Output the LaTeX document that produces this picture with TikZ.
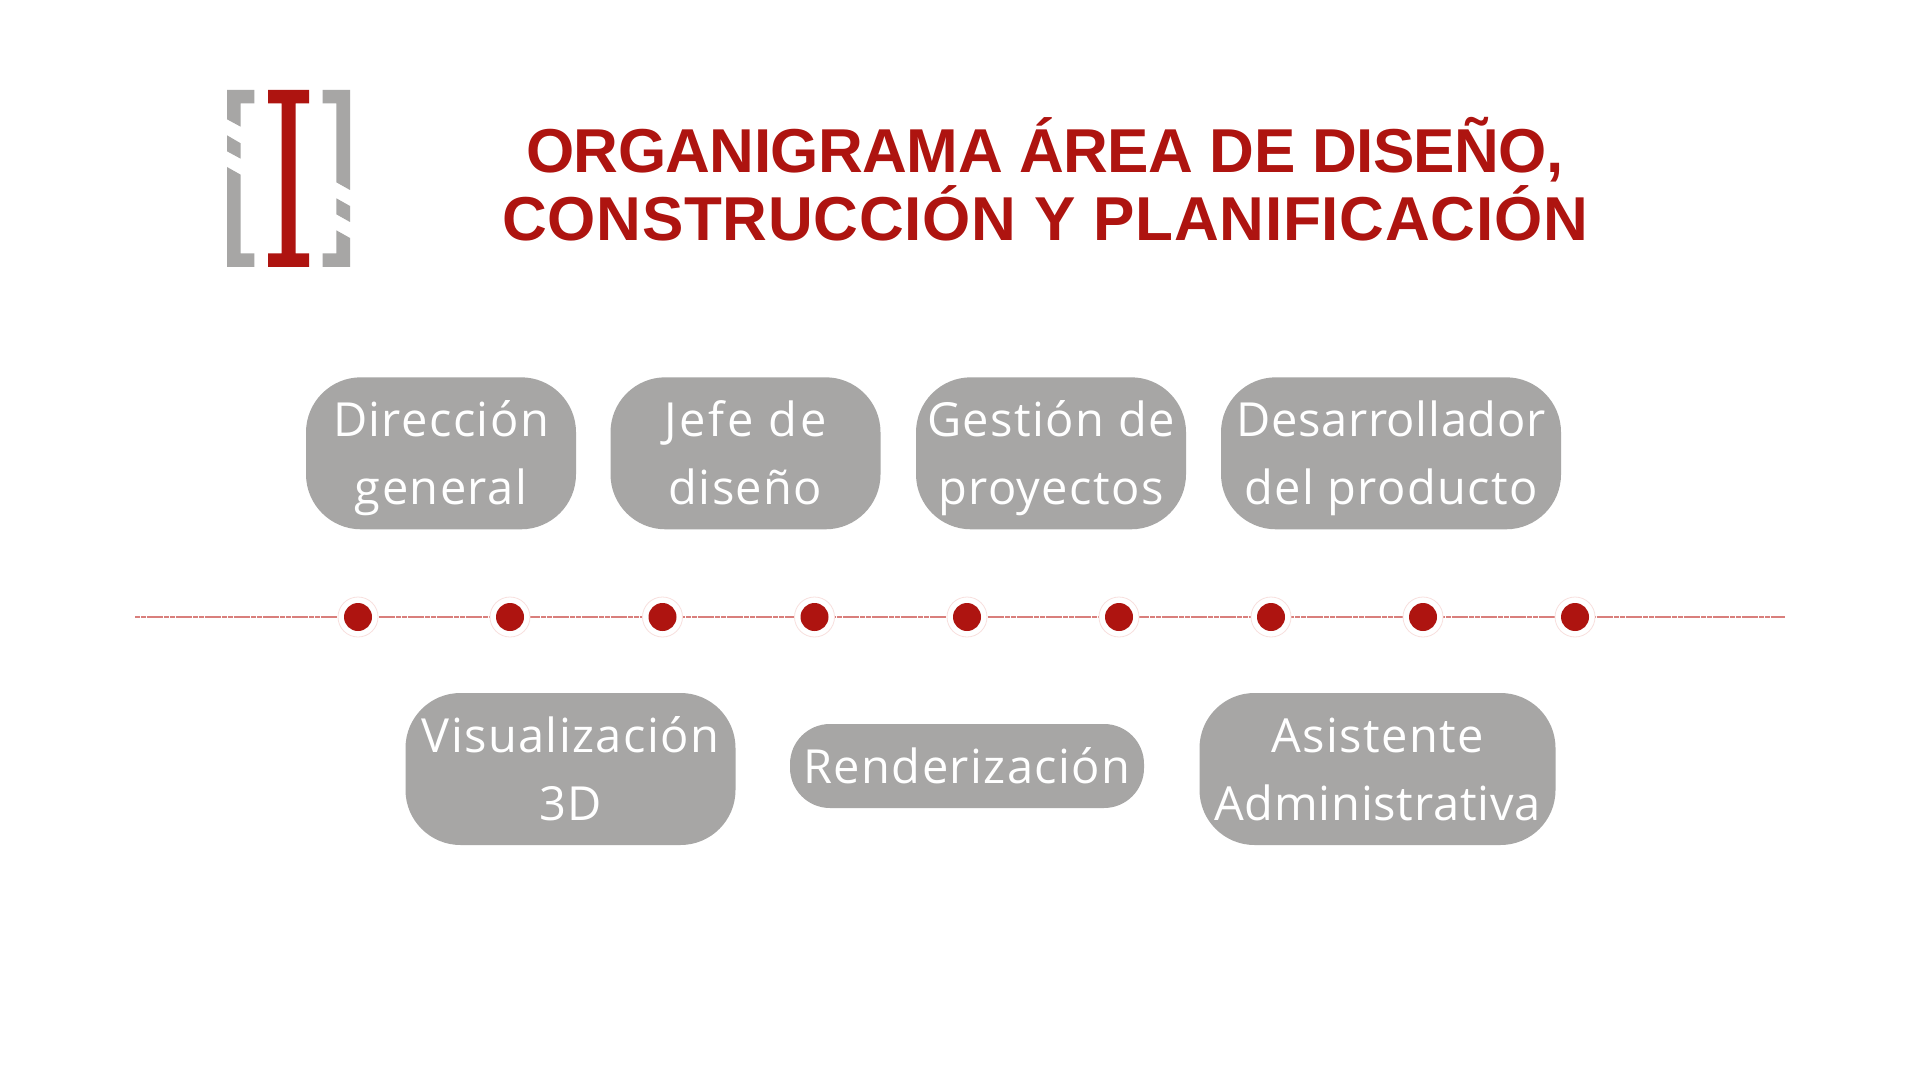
\documentclass[tikz,border=0pt]{standalone}
\usepackage{fontspec}
\setmainfont{Open Sans}[LetterSpace=3]
\newfontfamily\titlefont{Liberation Sans}
\newcommand\pillstrut{\rule[-8.4pt]{0pt}{34pt}}
\newcommand\tight[2]{{\addfontfeature{LetterSpace=#1}#2}}
\definecolor{boxgray}{HTML}{A7A6A5}
\definecolor{brandred}{HTML}{AE1410}
\definecolor{linered}{HTML}{D97F7C}
\definecolor{ringred}{HTML}{F8E0DE}
\tikzset{
  pill/.style={fill=boxgray,text=white,rounded corners=27.5pt,inner sep=0pt,align=center,
    font=\fontsize{23.5pt}{34pt}\selectfont,minimum height=76pt},
  titleline/.style={text=brandred,inner sep=0pt,anchor=base,font=\titlefont\bfseries\fontsize{31pt}{34pt}\selectfont},
  dotnode/.style={circle,fill=brandred,minimum size=14pt,inner sep=0pt},
  ringnode/.style={circle,fill=white,draw=ringred,line width=0.4pt,minimum size=20pt,inner sep=0pt},
  timeline/.style={draw=linered,line width=0.75pt,dash pattern=on 2.6pt off 0.3pt},
  logogray/.style={fill=boxgray},
  logored/.style={fill=brandred}
}
\begin{document}
\begin{tikzpicture}[x=0.5pt,y=-0.5pt]
\useasboundingbox (0,0) rectangle (1920,1080);
\fill[white] (0,0) rectangle (1920,1080);
% logo
\fill[logogray] (227,90)--(254.3,90)--(254.3,103.3)--(240.7,103.3)--(240.7,126.7)--(227,119.3)--cycle;
\fill[logogray] (227,135.3)--(240.7,143.3)--(240.7,158.7)--(227,151.3)--cycle;
\fill[logogray] (227,167)--(240.7,174.7)--(240.7,253.3)--(254.3,253.3)--(254.3,267)--(227,267)--cycle;
\fill[logogray] (322.7,90)--(350,90)--(350,190)--(336.3,182.3)--(336.3,103.3)--(322.7,103.3)--cycle;
\fill[logogray] (336.3,198.3)--(350,206)--(350,222)--(336.3,214.3)--cycle;
\fill[logogray] (336.3,230.3)--(350,238)--(350,267)--(322.7,267)--(322.7,253.3)--(336.3,253.3)--cycle;
\fill[logored] (268,90)--(309,90)--(309,103.3)--(295.7,103.3)--(295.7,253.3)--(309,253.3)--(309,267)--(268,267)--(268,253.3)--(281.7,253.3)--(281.7,103.3)--(268,103.3)--cycle;
% title
\node[titleline] (t1) at (1045,173) {\addfontfeature{LetterSpace=-0.9}ORGANIGRAMA ÁREA DE DISEÑO,};
\node[titleline] (t2) at (1045,241) {\addfontfeature{LetterSpace=1.15}CONSTRUCCIÓN Y PLANIFICACIÓN};
% boxes
\node[pill,minimum width=135pt] (b1) at (441,453.3) {\pillstrut Dirección\\\pillstrut general};
\node[pill,minimum width=135pt] (b2) at (745.5,453.3) {\pillstrut\tight{6}{Jefe de}\\\pillstrut diseño};
\node[pill,minimum width=135pt] (b3) at (1051,453.3) {\pillstrut Gestión de\\\pillstrut proyectos};
\node[pill,minimum width=170pt] (b4) at (1391,453.3) {\pillstrut\tight{1.4}{Desarrollador}\\\pillstrut del producto};
\node[pill,minimum width=165pt] (b5) at (570.5,769) {\pillstrut Visualización\\\pillstrut 3D};
\node[pill,minimum width=177pt,minimum height=42pt,rounded corners=20pt] (b6) at (967,766) {\pillstrut Renderización};
\node[pill,minimum width=178pt] (b7) at (1377.5,769) {\pillstrut Asistente\\\pillstrut\tight{1.7}{Administrativa}};
% timeline
\coordinate (lineL) at (135,617);
\coordinate (lineR) at (1785,617);
\draw[timeline] (lineL) -- (lineR);
\foreach \n/\x in {1/358,2/510,3/662.5,4/814.5,5/967,6/1119,7/1271,8/1423,9/1575}{
  \node[ringnode] (r\n) at (\x,617) {};
  \node[dotnode] (d\n) at (\x,617) {};
}
\end{tikzpicture}
\end{document}
